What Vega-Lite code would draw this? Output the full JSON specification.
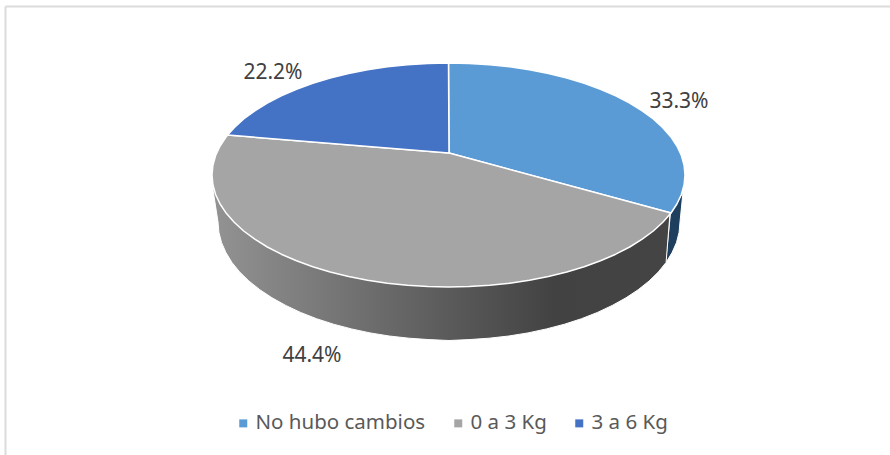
{
"$schema":"https://vega.github.io/schema/vega-lite/v6.json",
"width":885,"height":449,
"padding":{"left":5,"top":6,"right":0,"bottom":0},
"autosize":{"type":"none"},
"background":"#ffffff",
"config":{"view":{"stroke":null},"font":"Noto Sans"},
"encoding":{
"x":{"field":"x","type":"quantitative","title":null,"scale":{"domain":[-444,441],"nice":false,"zero":false},"axis":{"orient":"top","domainColor":"#dcdcdc","domainWidth":2,"ticks":false,"labels":false,"grid":false}},
"y":{"field":"y","type":"quantitative","title":null,"scale":{"domain":[-302,147],"nice":false,"zero":false},"axis":{"orient":"left","domainColor":"#dcdcdc","domainWidth":2,"ticks":false,"labels":false,"grid":false}},
"order":{"field":"seq"}
},
"layer":[
{"data":{"values":[
{"seq":1,"x":222,"y":-60},{"seq":2,"x":234,"y":-39},{"seq":3,"x":231,"y":-69},{"seq":4,"x":230.1,"y":-79.3},{"seq":5,"x":227.5,"y":-89.5},{"seq":6,"x":223.1,"y":-99.5},{"seq":7,"x":217.1,"y":-109.4}
]},
"mark":{"type":"line","fill":"#1f3f5f","stroke":"#ffffff","strokeWidth":1}},
{"data":{"values":[
{"seq":1,"x":221,"y":-60},{"seq":2,"x":217.1,"y":-109.4},{"seq":3,"x":209.4,"y":-118.9},{"seq":4,"x":200.1,"y":-128},{"seq":5,"x":189.2,"y":-136.7},{"seq":6,"x":177,"y":-144.8},{"seq":7,"x":163.3,"y":-152.4},{"seq":8,"x":148.5,"y":-159.4},{"seq":9,"x":132.5,"y":-165.7},{"seq":10,"x":115.5,"y":-171.2},{"seq":11,"x":97.6,"y":-175.9},{"seq":12,"x":79,"y":-179.9},{"seq":13,"x":59.8,"y":-183},{"seq":14,"x":40.1,"y":-185.2},{"seq":15,"x":20.1,"y":-186.6},{"seq":16,"x":0,"y":-187.5},
{"seq":17,"x":-20.1,"y":-186.6},{"seq":18,"x":-40.1,"y":-185.2},{"seq":19,"x":-59.8,"y":-183},{"seq":20,"x":-79,"y":-179.9},{"seq":21,"x":-97.6,"y":-175.9},{"seq":22,"x":-115.5,"y":-171.2},{"seq":23,"x":-132.5,"y":-165.7},{"seq":24,"x":-148.5,"y":-159.4},{"seq":25,"x":-163.3,"y":-152.4},{"seq":26,"x":-177,"y":-144.8},{"seq":27,"x":-189.2,"y":-136.7},{"seq":28,"x":-200.1,"y":-128},{"seq":29,"x":-209.4,"y":-118.9},{"seq":30,"x":-217.1,"y":-109.4},{"seq":31,"x":-223.1,"y":-99.5},{"seq":32,"x":-227.5,"y":-89.5},{"seq":33,"x":-230.1,"y":-79.3},{"seq":34,"x":-231,"y":-69},{"seq":35,"x":-236,"y":-37}
]},
"mark":{"type":"line","stroke":"#ffffff","strokeWidth":1,"fill":{"gradient":"linear","x1":0,"y1":0,"x2":1,"y2":0,"stops":[{"offset":0,"color":"#939393"},{"offset":0.5,"color":"#5c5c5c"},{"offset":0.75,"color":"#424242"},{"offset":1,"color":"#444444"}]}}},
{"data":{"values":[
{"slice":"No hubo cambios","seq":1,"x":0,"y":0},{"slice":"No hubo cambios","seq":2,"x":-0.5,"y":90},{"slice":"No hubo cambios","seq":3,"x":20.1,"y":89.6},{"slice":"No hubo cambios","seq":4,"x":40.6,"y":88.3},{"slice":"No hubo cambios","seq":5,"x":60.7,"y":86.2},{"slice":"No hubo cambios","seq":6,"x":80.4,"y":83.2},{"slice":"No hubo cambios","seq":7,"x":99.4,"y":79.5},{"slice":"No hubo cambios","seq":8,"x":117.8,"y":75},{"slice":"No hubo cambios","seq":9,"x":135.2,"y":69.7},{"slice":"No hubo cambios","seq":10,"x":151.5,"y":63.8},{"slice":"No hubo cambios","seq":11,"x":166.7,"y":57.2},{"slice":"No hubo cambios","seq":12,"x":180.7,"y":50},{"slice":"No hubo cambios","seq":13,"x":193.2,"y":42.2},{"slice":"No hubo cambios","seq":14,"x":204.3,"y":34},{"slice":"No hubo cambios","seq":15,"x":213.8,"y":25.3},{"slice":"No hubo cambios","seq":16,"x":221.7,"y":16.3},{"slice":"No hubo cambios","seq":17,"x":227.9,"y":7},{"slice":"No hubo cambios","seq":18,"x":232.4,"y":-2.5},{"slice":"No hubo cambios","seq":19,"x":235.1,"y":-12.2},{"slice":"No hubo cambios","seq":20,"x":236,"y":-22},{"slice":"No hubo cambios","seq":21,"x":235.1,"y":-31.8},{"slice":"No hubo cambios","seq":22,"x":232.4,"y":-41.5},{"slice":"No hubo cambios","seq":23,"x":227.9,"y":-51},{"slice":"No hubo cambios","seq":24,"x":222,"y":-60},{"slice":"No hubo cambios","seq":25,"x":0,"y":0},
{"slice":"0 a 3 Kg","seq":1,"x":0,"y":0},{"slice":"0 a 3 Kg","seq":2,"x":222,"y":-60},{"slice":"0 a 3 Kg","seq":3,"x":213.8,"y":-69.3},{"slice":"0 a 3 Kg","seq":4,"x":204.3,"y":-78},{"slice":"0 a 3 Kg","seq":5,"x":193.2,"y":-86.2},{"slice":"0 a 3 Kg","seq":6,"x":180.7,"y":-94},{"slice":"0 a 3 Kg","seq":7,"x":166.7,"y":-101.2},{"slice":"0 a 3 Kg","seq":8,"x":151.5,"y":-107.8},{"slice":"0 a 3 Kg","seq":9,"x":135.2,"y":-113.7},{"slice":"0 a 3 Kg","seq":10,"x":117.8,"y":-119},{"slice":"0 a 3 Kg","seq":11,"x":99.4,"y":-123.5},{"slice":"0 a 3 Kg","seq":12,"x":80.4,"y":-127.2},{"slice":"0 a 3 Kg","seq":13,"x":60.7,"y":-130.2},{"slice":"0 a 3 Kg","seq":14,"x":40.6,"y":-132.3},{"slice":"0 a 3 Kg","seq":15,"x":20.1,"y":-133.6},{"slice":"0 a 3 Kg","seq":16,"x":-0.5,"y":-134},{"slice":"0 a 3 Kg","seq":17,"x":-21.1,"y":-133.6},{"slice":"0 a 3 Kg","seq":18,"x":-41.6,"y":-132.3},{"slice":"0 a 3 Kg","seq":19,"x":-61.7,"y":-130.2},{"slice":"0 a 3 Kg","seq":20,"x":-81.4,"y":-127.2},{"slice":"0 a 3 Kg","seq":21,"x":-100.4,"y":-123.5},{"slice":"0 a 3 Kg","seq":22,"x":-118.8,"y":-119},{"slice":"0 a 3 Kg","seq":23,"x":-136.2,"y":-113.7},{"slice":"0 a 3 Kg","seq":24,"x":-152.5,"y":-107.8},{"slice":"0 a 3 Kg","seq":25,"x":-167.7,"y":-101.2},{"slice":"0 a 3 Kg","seq":26,"x":-181.7,"y":-94},{"slice":"0 a 3 Kg","seq":27,"x":-194.2,"y":-86.2},{"slice":"0 a 3 Kg","seq":28,"x":-205.3,"y":-78},{"slice":"0 a 3 Kg","seq":29,"x":-214.8,"y":-69.3},{"slice":"0 a 3 Kg","seq":30,"x":-222.7,"y":-60.3},{"slice":"0 a 3 Kg","seq":31,"x":-228.9,"y":-51},{"slice":"0 a 3 Kg","seq":32,"x":-233.4,"y":-41.5},{"slice":"0 a 3 Kg","seq":33,"x":-236.1,"y":-31.8},{"slice":"0 a 3 Kg","seq":34,"x":-237,"y":-22},{"slice":"0 a 3 Kg","seq":35,"x":-236.1,"y":-12.2},{"slice":"0 a 3 Kg","seq":36,"x":-233.4,"y":-2.5},{"slice":"0 a 3 Kg","seq":37,"x":-228.9,"y":7},{"slice":"0 a 3 Kg","seq":38,"x":-222.7,"y":16.3},{"slice":"0 a 3 Kg","seq":39,"x":-221.4,"y":18},{"slice":"0 a 3 Kg","seq":40,"x":0,"y":0},
{"slice":"3 a 6 Kg","seq":1,"x":0,"y":0},{"slice":"3 a 6 Kg","seq":2,"x":-221.4,"y":18},{"slice":"3 a 6 Kg","seq":3,"x":-214.8,"y":25.3},{"slice":"3 a 6 Kg","seq":4,"x":-205.3,"y":34},{"slice":"3 a 6 Kg","seq":5,"x":-194.2,"y":42.2},{"slice":"3 a 6 Kg","seq":6,"x":-181.7,"y":50},{"slice":"3 a 6 Kg","seq":7,"x":-167.7,"y":57.2},{"slice":"3 a 6 Kg","seq":8,"x":-152.5,"y":63.8},{"slice":"3 a 6 Kg","seq":9,"x":-136.2,"y":69.7},{"slice":"3 a 6 Kg","seq":10,"x":-118.8,"y":75},{"slice":"3 a 6 Kg","seq":11,"x":-100.4,"y":79.5},{"slice":"3 a 6 Kg","seq":12,"x":-81.4,"y":83.2},{"slice":"3 a 6 Kg","seq":13,"x":-61.7,"y":86.2},{"slice":"3 a 6 Kg","seq":14,"x":-41.6,"y":88.3},{"slice":"3 a 6 Kg","seq":15,"x":-21.1,"y":89.6},{"slice":"3 a 6 Kg","seq":16,"x":-0.5,"y":90},{"slice":"3 a 6 Kg","seq":17,"x":0,"y":0}
]},
"mark":{"type":"line","stroke":"#ffffff","strokeWidth":1.5,"strokeJoin":"bevel"},
"encoding":{"fill":{"field":"slice","type":"nominal","title":null,
"scale":{"domain":["No hubo cambios","0 a 3 Kg","3 a 6 Kg"],"range":["#5b9bd5","#a5a5a5","#4472c4"]},
"legend":{"orient":"none","legendX":228,"legendY":407,"direction":"horizontal","symbolType":"square","symbolSize":64,"symbolStrokeWidth":0,"labelFontSize":20.5,"labelColor":"#595959","labelFont":"Noto Sans","labelLimit":220,"columnPadding":22,"labelOffset":2}}}},
{"data":{"values":[
{"slice":"No hubo cambios","share":0.333,"x":230,"y":51.5},
{"slice":"0 a 3 Kg","share":0.444,"x":-137,"y":-202.5},
{"slice":"3 a 6 Kg","share":0.222,"x":-176,"y":80.5}
]},
"mark":{"type":"text","fontSize":21,"font":"Noto Sans","color":"#404040","baseline":"middle"},
"encoding":{"text":{"field":"share","type":"quantitative","format":".1%"}}}
]
}
